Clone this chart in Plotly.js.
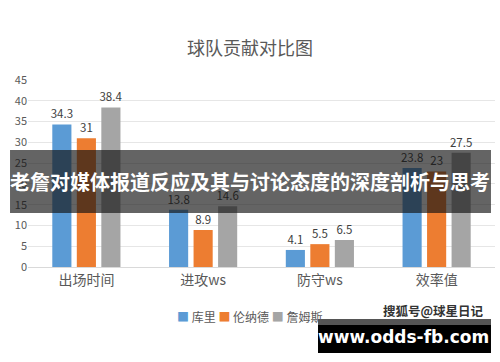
<!DOCTYPE html>
<html>
<head>
<meta charset="utf-8">
<script src="https://cdn.plot.ly/plotly-3.0.1.min.js"></script>
<style>html,body{margin:0;padding:0;background:#fff;}#chart{width:500px;height:362px;}</style>
</head>
<body>
<div id="chart"></div>
<script>
const categories = ['出场时间', '进攻ws', '防守ws', '效率值'];
const seriesNames = ['库里', '伦纳德', '詹姆斯'];
const curry = [34.3, 13.8, 4.1, 23.8];
const leonard = [31, 8.9, 5.5, 23];
const james = [38.4, 14.6, 6.5, 27.5];
const colors = ['#5B9BD5', '#ED7D31', '#A5A5A5'];
const yTicks = [0, 5, 10, 15, 20, 25, 30, 35, 40, 45];

const font = '"Noto Sans CJK SC", "Noto Sans", sans-serif';
const traces = [curry, leonard, james].map((vals, i) => ({
  type: 'bar',
  name: seriesNames[i],
  x: categories,
  y: vals,
  marker: {color: colors[i]},
  text: vals.map(String),
  textposition: 'outside',
  constraintext: 'none',
  cliponaxis: false,
  textfont: {family: font, size: 11.5, color: '#404040'},
  hoverinfo: 'skip'
}));

const legendText = seriesNames.map((n, i) => '<span style="color:' + colors[i] + '">■</span> ' + n).join(' ');

const layout = {
  width: 500, height: 362,
  margin: {l: 28, r: 5, t: 80, b: 95},
  paper_bgcolor: '#fff', plot_bgcolor: '#fff',
  font: {family: font, color: '#595959'},
  title: {text: '球队贡献对比图', font: {family: font, size: 18, color: '#595959'}, x: 0.5, xanchor: 'center', y: 0.865, yanchor: 'middle'},
  barmode: 'group',
  bargap: 0.37,
  bargroupgap: 0.22,
  xaxis: {tickfont: {family: font, size: 14, color: '#595959'}, showline: true, linecolor: '#D9D9D9', ticks: '', fixedrange: true},
  yaxis: {range: [0, 45], tickvals: yTicks, tickfont: {family: font, size: 11, color: '#595959'}, gridcolor: '#E6E6E6', zeroline: false, ticks: '', fixedrange: true},
  showlegend: false,
  shapes: [
    {type: 'rect', xref: 'paper', yref: 'paper', x0: -0.0385, x1: 0.9914, y0: 0.2888, y1: 0.6257, fillcolor: 'rgba(20,20,20,0.66)', line: {width: 0}, layer: 'above'},
    {type: 'rect', xref: 'paper', yref: 'paper', x0: 0.621, x1: 0.9914, y0: -0.4599, y1: -0.278, fillcolor: '#000', line: {width: 0}, layer: 'above'},
    {type: 'rect', xref: 'paper', yref: 'paper', x0: 0.621, x1: 0.9914, y0: -0.31, y1: -0.278, fillcolor: '#555', line: {width: 0}, layer: 'above'}
  ],
  annotations: [
    {xref: 'paper', yref: 'paper', x: 0.475, y: -0.267, text: legendText, showarrow: false, font: {family: font, size: 12, color: '#595959'}, xanchor: 'center', yanchor: 'middle'},
    {xref: 'paper', yref: 'paper', x: 0.4755, y: 0.455, text: '老詹对媒体报道反应及其与讨论态度的深度剖析与思考', showarrow: false, font: {family: font, size: 20, color: '#fff', weight: 'bold'}, xanchor: 'center', yanchor: 'middle'},
    {xref: 'paper', yref: 'paper', x: 0.869, y: -0.231, text: '搜狐号@球星日记', showarrow: false, font: {family: font, size: 12.5, color: '#333', weight: 'bold'}, xanchor: 'center', yanchor: 'middle'},
    {xref: 'paper', yref: 'paper', x: 0.805, y: -0.377, text: 'www.odds-fb.com', showarrow: false, font: {family: '"DejaVu Sans", sans-serif', size: 17, color: '#fff', weight: 'bold'}, xanchor: 'center', yanchor: 'middle'}
  ]
};

Plotly.newPlot('chart', traces, layout, {displayModeBar: false, staticPlot: true});
</script>
</body>
</html>
